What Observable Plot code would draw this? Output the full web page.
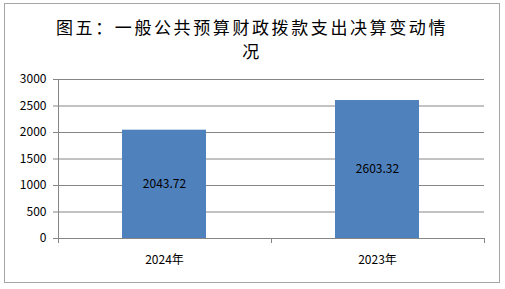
<!DOCTYPE html>
<html><head><meta charset="utf-8">
<script src="https://cdn.jsdelivr.net/npm/d3@7"></script>
<script src="https://cdn.jsdelivr.net/npm/@observablehq/plot@0.6"></script>
<style>
body{margin:0;background:#fff;}
#wrap{position:relative;width:505px;height:289px;overflow:hidden;background:#fff;}
#frame{position:absolute;left:4px;top:3px;width:496px;height:280px;box-sizing:border-box;border:1px solid #a6a6a6;pointer-events:none;}
#title{position:absolute;left:52px;width:400px;top:15px;text-align:center;white-space:nowrap;font-family:"Noto Sans CJK SC",sans-serif;font-size:17px;line-height:24px;letter-spacing:2.6px;color:#000;}
#chart{position:absolute;left:0;top:60px;}
</style></head><body>
<div id="wrap"><div id="title">图五：一般公共预算财政拨款支出决算变动情<br>况</div><div id="chart"></div><div id="frame"></div></div>
<script>
const years = ["2024年", "2023年"];
const values = [2043.72, 2603.32];
const yTicks = [0, 500, 1000, 1500, 2000, 2500, 3000];
const data = years.map((year, i) => ({year, value: values[i]}));

const axisColor = "#868686";

function axisLines(index, scales, vals, dims) {
  const x = scales.x;
  const L = dims.marginLeft, R = dims.width - dims.marginRight;
  const T = dims.marginTop, B = dims.height - dims.marginBottom;
  const bw = typeof x.bandwidth === "function" ? x.bandwidth() : (x.bandwidth || 0);
  const centers = years.map(y => x(y) + bw / 2);
  const bounds = [L, (centers[0] + centers[1]) / 2, R];
  const g = d3.create("svg:g").attr("stroke", axisColor).attr("fill", "none");
  g.append("line").attr("x1", L + 0.5).attr("x2", L + 0.5).attr("y1", T).attr("y2", B + 0.5);
  g.append("line").attr("x1", L).attr("x2", R).attr("y1", B + 0.5).attr("y2", B + 0.5);
  for (const b of bounds) {
    const bx = Math.round(b) + 0.5;
    g.append("line").attr("x1", bx).attr("x2", bx).attr("y1", B).attr("y2", B + 5);
  }
  return g.node();
}

const chart = Plot.plot({
  width: 505,
  height: 229,
  marginLeft: 58,
  marginRight: 21,
  marginTop: 19,
  marginBottom: 51,
  style: {fontSize: "12px", fontFamily: "'Noto Sans CJK SC', sans-serif", color: "#000", background: "transparent"},
  x: {domain: years, paddingInner: 0.605, paddingOuter: 0.3025, label: null},
  y: {domain: [0, 3000], label: null},
  marks: [
    Plot.gridY({ticks: yTicks, stroke: axisColor, strokeOpacity: 1, strokeWidth: 1}),
    Plot.axisY({ticks: yTicks, tickFormat: d3.format("d"), tickSize: 5, tickPadding: 7, stroke: axisColor, fill: "#000", label: null}),
    Plot.axisX({tickSize: 0, tickPadding: 17, fill: "#000", label: null}),
    Plot.barY(data, {x: "year", y: "value", fill: "#4f81bd"}),
    Plot.text(data, {x: "year", y: d => d.value / 2, text: d => d.value.toFixed(2), fill: "#000", fontSize: 12}),
    Plot.ruleY([0], {render: axisLines})
  ]
});
document.getElementById("chart").appendChild(chart);
</script>
</body></html>
